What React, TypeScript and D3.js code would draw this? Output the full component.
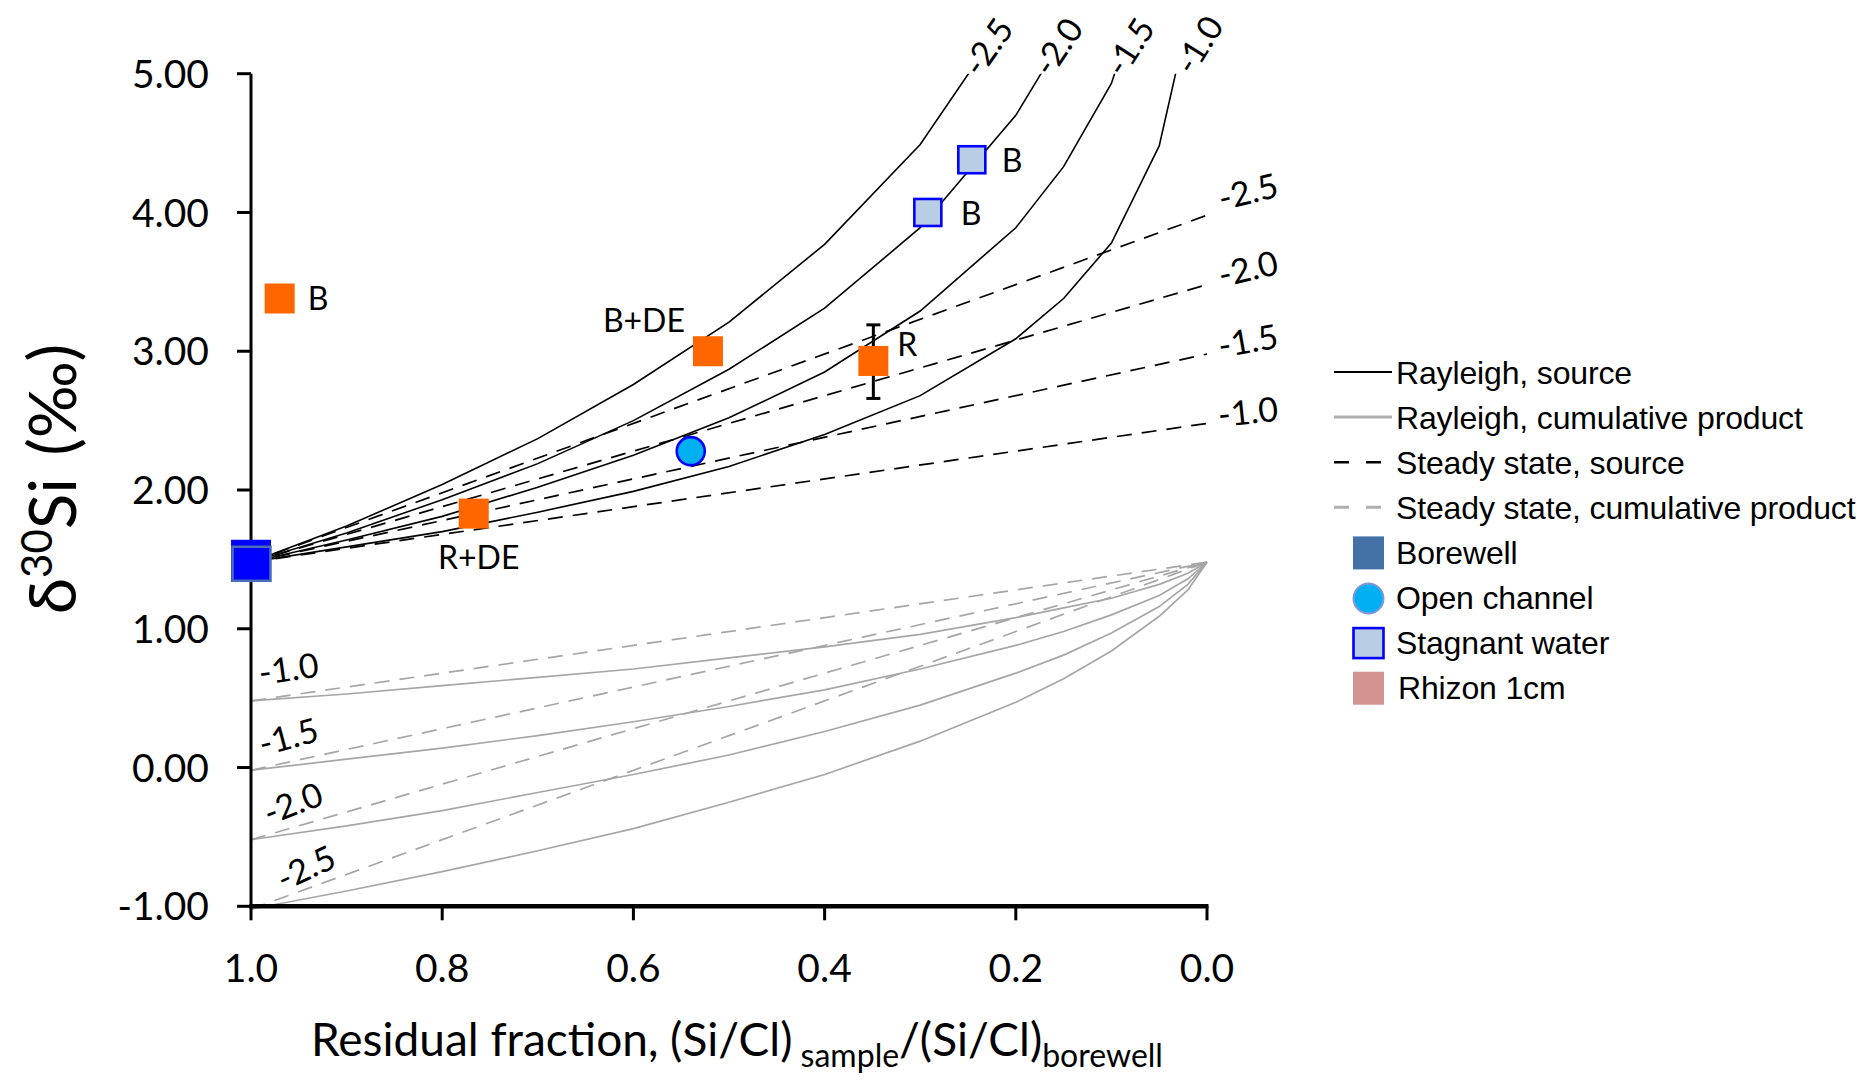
import React from 'react';
import * as d3 from 'd3';

// ---------- data ----------
const epsilonLabels = ['-1.0', '-1.5', '-2.0', '-2.5'];

// residual fraction grid for the Rayleigh source curves
const rayleighFractions = [1.0, 0.9, 0.8, 0.7, 0.6, 0.5, 0.4, 0.3, 0.2, 0.15, 0.1, 0.05, 0.02];
const rayleighSourceM10 = [1.48, 1.59, 1.70, 1.84, 1.99, 2.17, 2.40, 2.68, 3.09, 3.38, 3.78, 4.48, 5.39];
const rayleighSourceM15 = [1.48, 1.64, 1.81, 2.02, 2.25, 2.52, 2.85, 3.29, 3.89, 4.33, 4.93, 5.97, 7.35];
const rayleighSourceM20 = [1.48, 1.69, 1.93, 2.19, 2.50, 2.87, 3.31, 3.89, 4.70, 5.27, 6.09, 7.47, 9.30];
const rayleighSourceM25 = [1.48, 1.74, 2.04, 2.37, 2.76, 3.21, 3.77, 4.49, 5.50, 6.22, 7.24, 8.97, 11.26];

// residual fraction grid for the Rayleigh cumulative product curves
const cumulativeFractions = [1.0, 0.9, 0.8, 0.7, 0.6, 0.5, 0.4, 0.3, 0.2, 0.15, 0.1, 0.05, 0.02, 0.0];
const rayleighCumM10 = [0.48, 0.53, 0.59, 0.65, 0.71, 0.79, 0.87, 0.96, 1.08, 1.15, 1.22, 1.32, 1.40, 1.48];
const rayleighCumM15 = [-0.02, 0.06, 0.14, 0.23, 0.33, 0.44, 0.56, 0.71, 0.88, 0.98, 1.10, 1.24, 1.36, 1.48];
const rayleighCumM20 = [-0.52, -0.42, -0.31, -0.18, -0.05, 0.09, 0.26, 0.45, 0.68, 0.81, 0.97, 1.16, 1.32, 1.48];
const rayleighCumM25 = [-1.02, -0.89, -0.75, -0.60, -0.44, -0.25, -0.05, 0.19, 0.47, 0.64, 0.84, 1.09, 1.28, 1.48];

// steady state lines (straight, end points)
const steadyFractions = [1.0, 0.0];
const steadySourceM10 = [1.48, 2.48];
const steadySourceM15 = [1.48, 2.98];
const steadySourceM20 = [1.48, 3.48];
const steadySourceM25 = [1.48, 3.98];
const steadyCumM10 = [0.48, 1.48];
const steadyCumM15 = [-0.02, 1.48];
const steadyCumM20 = [-0.52, 1.48];
const steadyCumM25 = [-1.02, 1.48];

// samples
const borewellF = [1.0];
const borewellD = [1.49];
const openChannelF = [0.54];
const openChannelD = [2.28];
const stagnantF = [0.246, 0.292];
const stagnantD = [4.38, 4.0];
const stagnantLabels = ['B', 'B'];
const rhizonF = [0.97, 0.522, 0.767, 0.349];
const rhizonD = [3.38, 3.0, 1.83, 2.93];
const rhizonLabels = ['B', 'B+DE', 'R+DE', 'R'];
const rhizonErrHigh = [null, null, null, 3.19];
const rhizonErrLow = [null, null, null, 2.66];

const yTicks = [-1, 0, 1, 2, 3, 4, 5];
const xTicks = [1.0, 0.8, 0.6, 0.4, 0.2, 0.0];

const legendLabels = [
  'Rayleigh, source',
  'Rayleigh, cumulative product',
  'Steady state, source',
  'Steady state, cumulative product',
  'Borewell',
  'Open channel',
  'Stagnant water',
  'Rhizon 1cm',
];

// ---------- layout / style ----------
const W = 1865;
const H = 1080;
const PL = 251, PR = 1207, PT = 73.7, PB = 906.3;
const FONT = "Lato, 'Open Sans', sans-serif";
const LFONT = "'Liberation Sans', Arial, sans-serif";
const GREY = '#A6A6A6';
const ORANGE = '#FF6600';

const zip = (f: number[], d: number[]) => f.map((v, i) => [v, d[i]] as [number, number]);

export default function App() {
  const x = d3.scaleLinear().domain([1, 0]).range([PL, PR]);
  const y = d3.scaleLinear().domain([-1, 5]).range([PB, PT]);
  const line = d3.line<[number, number]>().x(d => x(d[0])).y(d => y(d[1]));
  const fmtY = (v: number) => d3.format('.2f')(v).replace('−', '-');
  const fmtX = (v: number) => d3.format('.1f')(v);

  const rSource = [rayleighSourceM10, rayleighSourceM15, rayleighSourceM20, rayleighSourceM25];
  const rCum = [rayleighCumM10, rayleighCumM15, rayleighCumM20, rayleighCumM25];
  const sSource = [steadySourceM10, steadySourceM15, steadySourceM20, steadySourceM25];
  const sCum = [steadyCumM10, steadyCumM15, steadyCumM20, steadyCumM25];

  // label positions (pixels), order -1.0,-1.5,-2.0,-2.5
  const topLabelPos = [[1199, 45], [1130, 47], [1058, 47], [988, 47]];
  const topLabelRot = [-58, -57, -56, -55];
  const rightLabelPos = [[1248, 412], [1248, 341], [1248, 269], [1248, 192]];
  const rightLabelRot = [-6, -10, -13, -14];
  const leftLabelPos = [[288.5, 669], [288.5, 737], [293, 803.5], [306, 868]];
  const leftLabelRot = [-8, -15, -21, -25];

  const rhizonLabelOffset = [
    { dx: 28, dy: 11, anchor: 'start' },
    { dx: -23, dy: -19.5, anchor: 'end' },
    { dx: 5, dy: 55, anchor: 'middle' },
    { dx: 24, dy: -5, anchor: 'start' },
  ];
  const stagnantLabelOffset = [
    { dx: 30, dy: 12.5 },
    { dx: 33, dy: 13 },
  ];

  const legendX = 1334;
  const legendTextX = 1396;
  const legendY0 = 372;
  const legendStep = 45.1;

  return (
    <svg width={W} height={H} style={{ position: 'absolute', left: 0, top: 0, background: '#fff' }}>
      <defs>
        <clipPath id="plotClip">
          <rect x={PL - 2} y={PT} width={PR - PL + 4} height={PB - PT + 4} />
        </clipPath>
      </defs>
      <rect x={0} y={0} width={W} height={H} fill="#fff" />

      {/* model curves */}
      <g clipPath="url(#plotClip)" fill="none">
        {sCum.map((d, i) => (
          <path key={'sc' + i} d={line(zip(steadyFractions, d)) || ''} stroke={GREY} strokeWidth={1.7} strokeDasharray="15,10" />
        ))}
        {rCum.map((d, i) => (
          <path key={'rc' + i} d={line(zip(cumulativeFractions, d)) || ''} stroke={GREY} strokeWidth={1.7} />
        ))}
        {sSource.map((d, i) => (
          <path key={'ss' + i} d={line(zip(steadyFractions, d)) || ''} stroke="#000" strokeWidth={1.7} strokeDasharray="15,10" />
        ))}
        {rSource.map((d, i) => (
          <path key={'rs' + i} d={line(zip(rayleighFractions, d)) || ''} stroke="#000" strokeWidth={1.6} />
        ))}
      </g>

      {/* curve labels */}
      <g fontFamily={FONT} fontSize={34} fill="#000" textAnchor="middle">
        {epsilonLabels.map((t, i) => (
          <text key={'tl' + i} transform={`translate(${topLabelPos[i][0]},${topLabelPos[i][1]}) rotate(${topLabelRot[i]})`} dy="0.35em">{t}</text>
        ))}
        {epsilonLabels.map((t, i) => (
          <text key={'rl' + i} transform={`translate(${rightLabelPos[i][0]},${rightLabelPos[i][1]}) rotate(${rightLabelRot[i]})`} dy="0.35em">{t}</text>
        ))}
        {epsilonLabels.map((t, i) => (
          <text key={'ll' + i} transform={`translate(${leftLabelPos[i][0]},${leftLabelPos[i][1]}) rotate(${leftLabelRot[i]})`} dy="0.35em">{t}</text>
        ))}
      </g>

      {/* axes */}
      <g stroke="#000">
        <line x1={PL} x2={PL} y1={PT} y2={PB + 2} strokeWidth={3} />
        {yTicks.map(t => (
          <line key={'yt' + t} x1={PL - 14} x2={PL} y1={y(t)} y2={y(t)} strokeWidth={3} />
        ))}
        <line x1={PL - 1.5} x2={PR + 1.5} y1={PB} y2={PB} strokeWidth={4.5} />
        {xTicks.map(t => (
          <line key={'xt' + t} x1={x(t)} x2={x(t)} y1={PB} y2={PB + 14} strokeWidth={3} />
        ))}
      </g>
      <g fontFamily={FONT} fontSize={39} fill="#000">
        {yTicks.map(t => (
          <text key={'yl' + t} x={209} y={y(t)} dy="0.36em" textAnchor="end">{fmtY(t)}</text>
        ))}
        {xTicks.map(t => (
          <text key={'xl' + t} x={x(t)} y={982} textAnchor="middle">{fmtX(t)}</text>
        ))}
      </g>

      {/* axis titles */}
      <text transform="translate(76,479) rotate(-90)" textAnchor="middle" fontFamily={FONT} fontSize={66} fill="#000">
        δ<tspan fontSize={42} dy={-24}>30</tspan><tspan dy={24}>Si</tspan><tspan dx={22}>(‰)</tspan>
      </text>
      <text x={311} y={1056} fontFamily={FONT} fontSize={46} fill="#000">
        Residual fraction, (Si/Cl)<tspan fontSize={32} dy={11}> sample</tspan><tspan dy={-11}>/(Si/Cl)</tspan><tspan fontSize={32} dy={11}>borewell</tspan>
      </text>

      {/* error bar */}
      {rhizonF.map((f, i) => rhizonErrHigh[i] == null ? null : (
        <g key={'eb' + i} stroke="#000" strokeWidth={3}>
          <line x1={x(f)} x2={x(f)} y1={y(rhizonErrHigh[i] as number)} y2={y(rhizonErrLow[i] as number)} />
          <line x1={x(f) - 7} x2={x(f) + 7} y1={y(rhizonErrHigh[i] as number)} y2={y(rhizonErrHigh[i] as number)} />
          <line x1={x(f) - 7} x2={x(f) + 7} y1={y(rhizonErrLow[i] as number)} y2={y(rhizonErrLow[i] as number)} />
        </g>
      ))}

      {/* markers */}
      {rhizonF.map((f, i) => (
        <rect key={'rz' + i} x={x(f) - 15} y={y(rhizonD[i]) - 15} width={30} height={30} fill={ORANGE} />
      ))}
      {stagnantF.map((f, i) => (
        <rect key={'sg' + i} x={x(f) - 13.5} y={y(stagnantD[i]) - 13.5} width={27} height={27} fill="#B9CDE5" stroke="#0000FF" strokeWidth={2.6} />
      ))}
      {openChannelF.map((f, i) => (
        <circle key={'oc' + i} cx={x(f)} cy={y(openChannelD[i])} r={14} fill="#00B0F0" stroke="#0000FF" strokeWidth={2.6} />
      ))}
      {borewellF.map((f, i) => (
        <g key={'bw' + i}>
          <rect x={x(f) - 20} y={y(borewellD[i]) - 21} width={40} height={42} fill="#0000FF" />
          <rect x={x(f) - 18.5} y={y(borewellD[i]) - 14} width={38} height={34} fill="#0000FF" stroke="#4A6FB5" strokeWidth={2.5} />
        </g>
      ))}

      {/* marker labels */}
      <g fontFamily={FONT} fontSize={32} fill="#000">
        {rhizonF.map((f, i) => (
          <text key={'rzl' + i} x={x(f) + rhizonLabelOffset[i].dx} y={y(rhizonD[i]) + rhizonLabelOffset[i].dy} textAnchor={rhizonLabelOffset[i].anchor as any}>{rhizonLabels[i]}</text>
        ))}
        {stagnantF.map((f, i) => (
          <text key={'sgl' + i} x={x(f) + stagnantLabelOffset[i].dx} y={y(stagnantD[i]) + stagnantLabelOffset[i].dy}>{stagnantLabels[i]}</text>
        ))}
      </g>

      {/* legend */}
      <g>
        {legendLabels.map((t, i) => {
          const cy = legendY0 + i * legendStep;
          let sym: any = null;
          if (i === 0) sym = <line x1={legendX} x2={legendX + 58} y1={cy} y2={cy} stroke="#000" strokeWidth={2.2} />;
          if (i === 1) sym = <line x1={legendX} x2={legendX + 58} y1={cy} y2={cy} stroke="#B0B0B0" strokeWidth={3} />;
          if (i === 2) sym = <line x1={legendX} x2={legendX + 58} y1={cy} y2={cy} stroke="#000" strokeWidth={2.6} strokeDasharray="15,17" />;
          if (i === 3) sym = <line x1={legendX} x2={legendX + 58} y1={cy} y2={cy} stroke="#B0B0B0" strokeWidth={3} strokeDasharray="15,17" />;
          if (i === 4) sym = <rect x={legendX + 19} y={cy - 16} width={31} height={33} fill="#4472A8" />;
          if (i === 5) sym = <circle cx={legendX + 34.5} cy={cy + 1} r={15} fill="#00B0F0" stroke="#8896D6" strokeWidth={2} />;
          if (i === 6) sym = <rect x={legendX + 19.5} y={cy - 14.5} width={30} height={30} fill="#B9CDE5" stroke="#0000FF" strokeWidth={2.6} />;
          if (i === 7) sym = <rect x={legendX + 19} y={cy - 16} width={31} height={33} fill="#D39390" />;
          return (
            <g key={'lg' + i}>
              {sym}
              <text x={i === 7 ? legendTextX + 2 : legendTextX} y={cy} dy="0.36em" fontFamily={LFONT} fontSize={32} letterSpacing={-0.15} fill="#000">{t}</text>
            </g>
          );
        })}
      </g>
    </svg>
  );
}
